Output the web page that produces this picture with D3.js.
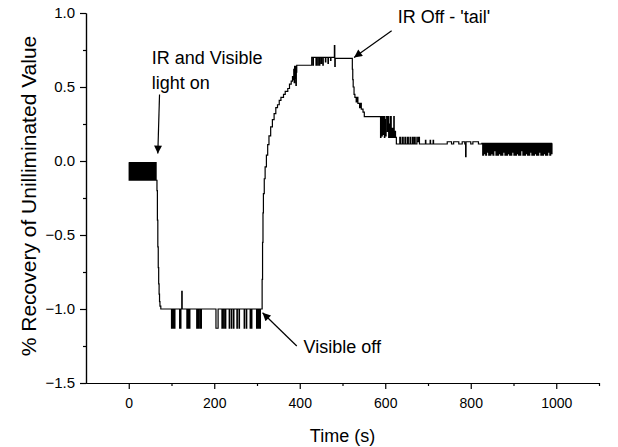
<!DOCTYPE html>
<html>
<head>
<meta charset="utf-8">
<script src="https://cdn.jsdelivr.net/npm/d3@7"></script>
<style>
  body { margin: 0; background: #fff; }
  svg { font-family: "Liberation Sans", Arial, sans-serif; }
  .axis path, .axis line { stroke: #000; stroke-width: 1.2; }
  .axis text { fill: #000; }
</style>
</head>
<body>
<div id="chart"></div>
<script>
// recovery signal, [time (s), % recovery]
var darkNoise = [[0,-0.01],[1,-0.13],[3,-0.01],[4,-0.13],[5,-0.01],[6,-0.13],[8,-0.01],[9,-0.13],[10,-0.01],[11,-0.13],[13,-0.01],[14,-0.13],[16,-0.01],[17,-0.13],[18,-0.01],[19,-0.13],[21,-0.01],[22,-0.13],[24,-0.01],[25,-0.13],[26,-0.01],[27,-0.13],[29,-0.01],[30,-0.13],[32,-0.01],[33,-0.13],[35,-0.01],[36,-0.13],[37,-0.01],[38,-0.13],[40,-0.01],[41,-0.13],[43,-0.01],[44,-0.13],[46,-0.01],[47,-0.13],[48,-0.01],[49,-0.13],[51,-0.01],[52,-0.13],[54,-0.01],[55,-0.13],[57,-0.01],[58,-0.13],[60,-0.01],[61,-0.13],[63,-0.01],[64,-0.13]];
var lightOnDrop = [[66,-0.2],[67,-0.4],[68,-0.58],[69,-0.72],[70,-0.83],[71,-0.9],[72,-0.95],[73,-0.98],[75,-1.0]];
var visiblePlateau = [[100,-1.13],[101,-1.0],[102,-1.13],[103,-1.0],[105,-1.13],[106,-1.0],[107,-1.13],[108,-1.0],[119,-1.13],[120,-1.0],[121,-1.13],[122,-1.0],[124,-0.88],[125,-1.0],[136,-1.13],[137,-1.0],[139,-1.13],[140,-1.0],[142,-1.13],[143,-1.0],[159,-1.13],[160,-1.0],[162,-1.13],[163,-1.0],[166,-1.13],[167,-1.0],[169,-1.13],[170,-1.0],[204,-1.13],[209,-1.0],[218,-1.13],[219,-1.0],[222,-1.13],[223,-1.0],[226,-1.13],[227,-1.0],[235,-1.13],[236,-1.0],[240,-1.13],[241,-1.0],[245,-1.13],[246,-1.0],[253,-1.13],[254,-1.0],[258,-1.13],[259,-1.0],[270,-1.13],[271,-1.0],[275,-1.13],[276,-1.0],[284,-1.13],[285,-1.0],[287,-1.13],[288,-1.0],[299,-1.13],[300,-1.0],[301,-1.13],[302,-1.0],[303,-1.13],[304,-1.0],[305,-1.13],[306,-1.0],[307,-1.13],[308,-1.0]];
var visibleOffRise = [[311,-1.0],[312,-0.8],[313,-0.55],[314,-0.35],[315,-0.22],[317,-0.12],[319,-0.04],[322,0.04],[325,0.11],[328,0.17],[332,0.23],[336,0.28],[340,0.32],[344,0.36],[348,0.38],[352,0.41],[356,0.43],[362,0.45],[366,0.47],[372,0.49],[376,0.52],[380,0.54],[383,0.57],[385,0.55],[386,0.62],[387,0.53],[388,0.64],[389,0.56],[390,0.64],[391,0.51],[392,0.6],[393,0.647]];
var irPlateau = [[428,0.70],[431,0.647],[432,0.70],[438,0.647],[439,0.70],[442,0.647],[443,0.70],[446,0.647],[447,0.70],[450,0.66],[451,0.70],[454,0.647],[455,0.70],[460,0.67],[461,0.70],[466,0.66],[467,0.70],[472,0.68],[473,0.70],[481,0.78],[482,0.64],[483,0.694]];
var irOffTail = [[522,0.694],[523,0.62],[524,0.55],[525,0.5],[527,0.45],[529,0.43],[532,0.40],[534,0.43],[536,0.39],[540,0.36],[542,0.39],[544,0.35],[548,0.33],[551,0.30],[589,0.16],[590,0.30],[592,0.17],[593,0.30],[595,0.18],[596,0.30],[598,0.16],[599,0.28],[601,0.17],[602,0.30],[605,0.2],[606,0.30],[608,0.16],[609,0.25],[611,0.16],[612,0.30],[614,0.16],[616,0.22],[618,0.16],[620,0.30],[621,0.16],[623,0.20],[624,0.16]];
var tailBaseline = [[626,0.115],[634,0.16],[636,0.115],[640,0.16],[642,0.115],[646,0.16],[648,0.115],[652,0.16],[654,0.115],[658,0.16],[659,0.115],[663,0.16],[665,0.115],[668,0.16],[670,0.115],[674,0.16],[675,0.13],[678,0.16],[680,0.115],[694,0.14],[695,0.115],[705,0.14],[706,0.115],[712,0.14],[713,0.115],[745,0.13],[755,0.115],[760,0.13],[772,0.115],[780,0.13],[786,0.115],[788,0.03],[789,0.13],[800,0.115],[805,0.13],[818,0.115]];
var tailNoise = [[826,0.12],[828,0.04],[830,0.12],[831,0.05],[833,0.12],[835,0.04],[837,0.12],[838,0.06],[840,0.12],[842,0.04],[844,0.12],[845,0.04],[847,0.12],[849,0.05],[851,0.12],[852,0.04],[854,0.12],[856,0.07],[858,0.12],[859,0.04],[861,0.12],[863,0.04],[865,0.12],[866,0.05],[868,0.12],[870,0.04],[872,0.12],[873,0.04],[875,0.12],[877,0.06],[879,0.12],[880,0.04],[882,0.12],[884,0.04],[886,0.12],[887,0.05],[889,0.12],[891,0.04],[893,0.12],[894,0.04],[896,0.12],[898,0.06],[900,0.12],[901,0.04],[903,0.12],[905,0.04],[907,0.12],[908,0.05],[910,0.12],[912,0.04],[914,0.12],[915,0.04],[917,0.12],[919,0.07],[921,0.12],[922,0.04],[924,0.12],[926,0.04],[928,0.12],[929,0.05],[931,0.12],[933,0.04],[935,0.12],[936,0.04],[938,0.12],[940,0.06],[942,0.12],[943,0.04],[945,0.12],[947,0.04],[949,0.12],[950,0.05],[952,0.12],[954,0.04],[956,0.12],[957,0.04],[959,0.12],[961,0.06],[963,0.12],[964,0.04],[966,0.12],[968,0.04],[970,0.12],[971,0.05],[973,0.12],[975,0.04],[977,0.12],[978,0.04],[980,0.12],[982,0.06],[984,0.12],[985,0.04],[987,0.12],[989,0.05],[990,0.12]];

var xMajor = [0, 200, 400, 600, 800, 1000];
var xMinor = [100, 300, 500, 700, 900, 1100];
var yMajor = [-1.5, -1.0, -0.5, 0.0, 0.5, 1.0];
var yMinor = [-1.25, -0.75, -0.25, 0.25, 0.75];

// annotations in data units: text anchor, arrow tail, arrow tip
var notes = [
  {lines: ['IR and Visible', 'light on'], t: 54, v: 0.655, from: [72, 0.45], to: [68, 0.05]},
  {lines: ["IR Off - 'tail'"], t: 629, v: 0.93, from: [615, 0.88], to: [527, 0.70]},
  {lines: ['Visible off'], t: 409, v: -1.30, from: [393, -1.25], to: [313, -1.025]}
];

var margin = {top: 13, right: 19, bottom: 64, left: 86},
    width = 618 - margin.left - margin.right,
    height = 447 - margin.top - margin.bottom;

var x = d3.scaleLinear().domain([-100, 1100]).range([0, width]);
var y = d3.scaleLinear().domain([-1.5, 1.0]).range([height, 0]);

var svg = d3.select('#chart').append('svg')
    .attr('width', 618)
    .attr('height', 447)
  .append('g')
    .attr('transform', 'translate(' + margin.left + ',' + margin.top + ')');

svg.append('defs').append('marker')
    .attr('id', 'head')
    .attr('viewBox', '0 0 10 10')
    .attr('refX', 10).attr('refY', 5)
    .attr('markerUnits', 'userSpaceOnUse')
    .attr('markerWidth', 11).attr('markerHeight', 8)
    .attr('orient', 'auto')
  .append('path')
    .attr('d', 'M0,0L10,5L0,10Z')
    .attr('fill', '#000');

// axes
svg.append('g')
    .attr('class', 'x axis')
    .attr('transform', 'translate(0,' + height + ')')
    .call(d3.axisBottom(x).tickValues(xMajor).tickSize(6).tickSizeOuter(0).tickPadding(9).tickFormat(d3.format('d')))
    .selectAll('text').style('font-size', '14px');

svg.append('g')
    .attr('class', 'x axis minor')
    .attr('transform', 'translate(0,' + height + ')')
    .call(d3.axisBottom(x).tickValues(xMinor).tickSize(3).tickSizeOuter(0).tickFormat(''));

svg.append('g')
    .attr('class', 'y axis')
    .call(d3.axisLeft(y).tickValues(yMajor).tickSize(6).tickSizeOuter(0).tickPadding(5).tickFormat(d3.format('.1f')))
    .selectAll('text').style('font-size', '15px');

svg.append('g')
    .attr('class', 'y axis minor')
    .call(d3.axisLeft(y).tickValues(yMinor).tickSize(3).tickSizeOuter(0).tickFormat(''));

// axis titles
svg.append('text')
    .attr('x', width / 2)
    .attr('y', height + 59)
    .attr('text-anchor', 'middle')
    .style('font-size', '18px')
    .text('Time (s)');

svg.append('text')
    .attr('transform', 'translate(' + (-50) + ',' + (height / 2 - 2) + ') rotate(-90)')
    .attr('text-anchor', 'middle')
    .style('font-size', '21px')
    .text('% Recovery of Unilliminated Value');

// trace
var trace = [].concat(darkNoise, lightOnDrop, visiblePlateau, visibleOffRise, irPlateau, irOffTail, tailBaseline, tailNoise);

var line = d3.line()
    .x(d => x(d[0]))
    .y(d => y(d[1]))
    .curve(d3.curveStepAfter);

svg.append('path')
    .datum(trace)
    .attr('fill', 'none')
    .attr('stroke', '#000')
    .attr('stroke-width', 1.2)
    .attr('d', line);

// annotations
var note = svg.selectAll('.note')
    .data(notes)
  .enter().append('g')
    .attr('class', 'note');

note.append('text')
    .attr('x', d => x(d.t))
    .attr('y', d => y(d.v))
    .style('font-size', '18px')
  .selectAll('tspan')
    .data(d => d.lines)
  .enter().append('tspan')
    .attr('x', function() { return this.parentNode.getAttribute('x'); })
    .attr('dy', (d, i) => i ? 25 : 0)
    .text(d => d);

note.append('line')
    .attr('x1', d => x(d.from[0]))
    .attr('y1', d => y(d.from[1]))
    .attr('x2', d => x(d.to[0]))
    .attr('y2', d => y(d.to[1]))
    .attr('stroke', '#000')
    .attr('stroke-width', 1.2)
    .attr('marker-end', 'url(#head)');
</script>
</body>
</html>
